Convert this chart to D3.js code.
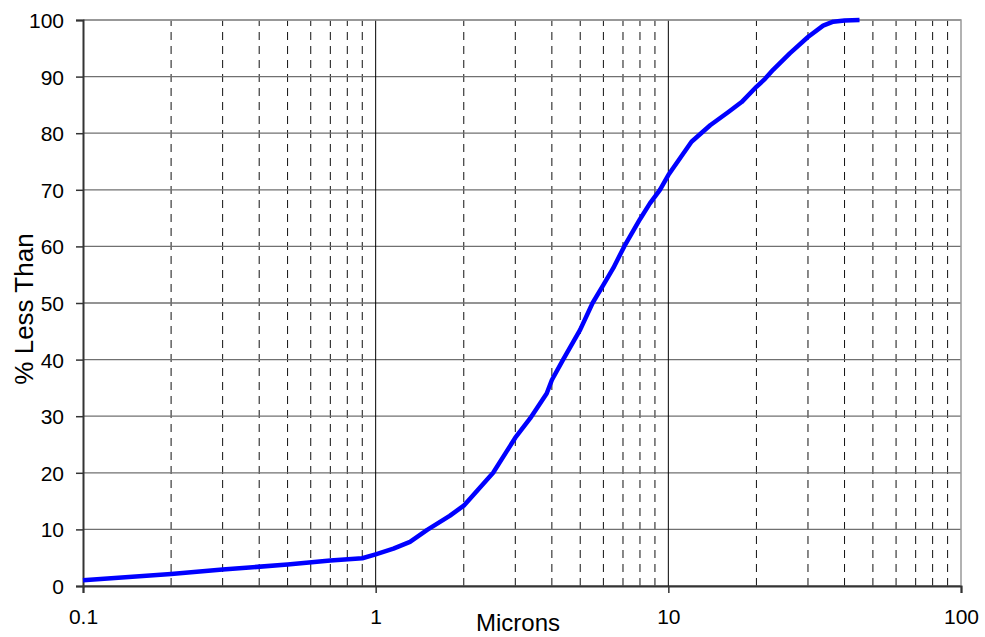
<!DOCTYPE html>
<html>
<head>
<meta charset="utf-8">
<script src="https://cdn.jsdelivr.net/npm/d3@7"></script>
<style>
  body { margin: 0; background: #fff; }
  text { font-family: Arial, "Liberation Sans", sans-serif; fill: #000; }
</style>
</head>
<body>
<svg width="985" height="637"></svg>
<script>
// particle size distribution
const microns = [0.1, 0.2, 0.3, 0.5, 0.7, 0.9, 1.0, 1.15, 1.31, 1.5, 1.79, 2.0, 2.52, 3.0, 3.37, 3.84, 4.0, 4.37,
  5.0, 5.51, 6.0, 6.49, 7.07, 8.0, 8.65, 9.0, 9.36, 10, 12, 13.9, 16, 17.8, 20, 21.4, 22.8, 26, 30, 33.8, 36.6, 40, 45];
const pctLess = [1.0, 2.1, 2.9, 3.8, 4.5, 4.9, 5.6, 6.6, 7.8, 9.9, 12.4, 14.2, 20, 26.2, 29.6, 34.0, 36.4, 40,
  45.3, 50, 53.2, 56.2, 60, 64.8, 67.6, 68.8, 70, 72.6, 78.5, 81.4, 83.7, 85.5, 88.2, 89.6, 91.2, 94.1, 97, 99, 99.7, 99.9, 100];

const xTicks = [0.1, 1, 10, 100];
const yTicks = [0, 10, 20, 30, 40, 50, 60, 70, 80, 90, 100];

const margin = {left: 83, top: 20, right: 24, bottom: 51};
const svg = d3.select('svg');
const width = +svg.attr('width'), height = +svg.attr('height');

const x = d3.scaleLog().domain([0.1, 100]).range([margin.left, width - margin.right]);
const y = d3.scaleLinear().domain([0, 100]).range([height - margin.bottom, margin.top]);

// minor dashed grid: 2..9 in each decade
const minor = [];
[0.1, 1, 10].forEach(d => { for (let k = 2; k <= 9; k++) minor.push(d * k); });

svg.append('g')
    .selectAll('line')
    .data(minor)
    .join('line')
    .attr('x1', d => x(d)).attr('x2', d => x(d))
    .attr('y1', y(0)).attr('y2', y(100))
    .attr('stroke', '#111')
    .attr('stroke-width', 1)
    .attr('stroke-dasharray', '8,6');

// horizontal grid
svg.append('g')
    .selectAll('line')
    .data(yTicks)
    .join('line')
    .attr('x1', x(0.1)).attr('x2', x(100))
    .attr('y1', d => y(d)).attr('y2', d => y(d))
    .attr('stroke', '#707070')
    .attr('stroke-width', 1.3);

// major vertical grid
svg.append('g')
    .selectAll('line')
    .data(xTicks.slice(1, 3))
    .join('line')
    .attr('x1', d => x(d)).attr('x2', d => x(d))
    .attr('y1', y(0)).attr('y2', y(100))
    .attr('stroke', '#000')
    .attr('stroke-width', 1);

// frame top/right
svg.append('path')
    .attr('d', `M${x(0.1)},${y(100)}H${x(100)}V${y(0)}`)
    .attr('fill', 'none')
    .attr('stroke', '#999')
    .attr('stroke-width', 1.5);

// axes
const xAxis = svg.append('g')
    .attr('transform', `translate(0,${y(0)})`)
    .call(d3.axisBottom(x).tickValues(xTicks).tickFormat(d3.format('~g')).tickSize(7).tickPadding(16));
const yAxis = svg.append('g')
    .attr('transform', `translate(${x(0.1)},0)`)
    .call(d3.axisLeft(y).tickValues(yTicks).tickSize(7).tickPadding(12));

[xAxis, yAxis].forEach(g => {
  g.select('.domain').attr('stroke', '#333').attr('stroke-width', 2);
  g.selectAll('.tick line').attr('stroke', '#333').attr('stroke-width', 1.5);
  g.selectAll('.tick text').style('font-size', '21px').attr('fill', '#000');
});
yAxis.selectAll('.tick text').attr('dy', '0.36em');

// curve
const line = d3.line()
    .x((d, i) => x(microns[i]))
    .y(d => y(d));

svg.append('path')
    .datum(pctLess)
    .attr('d', line)
    .attr('fill', 'none')
    .attr('stroke', '#0000ff')
    .attr('stroke-width', 4.5)
    .attr('stroke-linejoin', 'round');

// titles
svg.append('text')
    .attr('x', 518).attr('y', 631)
    .attr('text-anchor', 'middle')
    .style('font-size', '24px')
    .text('Microns');

svg.append('text')
    .attr('transform', 'translate(33,309) rotate(-90)')
    .attr('text-anchor', 'middle')
    .style('font-size', '26px')
    .text('% Less Than');
</script>
</body>
</html>
